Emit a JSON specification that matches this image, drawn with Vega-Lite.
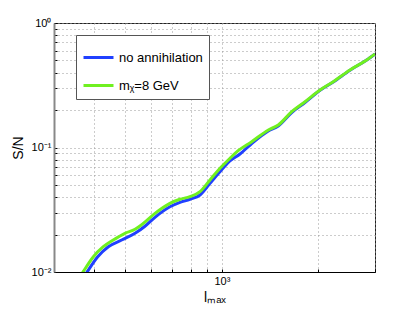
{
  "$schema": "https://vega.github.io/schema/vega-lite/v6.json",
  "width": 321,
  "height": 249,
  "autosize": "none",
  "padding": {"left": 54, "top": 23, "right": 40, "bottom": 40},
  "background": "white",
  "config": {
    "font": "Liberation Sans",
    "view": {"stroke": "#222", "strokeWidth": 1}
  },
  "data": {
    "values": [
      {"l": 375.7, "sn": 0.00951, "s": "no annihilation"},
      {"l": 381, "sn": 0.01006, "s": "no annihilation"},
      {"l": 410.5, "sn": 0.01327, "s": "no annihilation"},
      {"l": 442.9, "sn": 0.01596, "s": "no annihilation"},
      {"l": 487.5, "sn": 0.01807, "s": "no annihilation"},
      {"l": 536.5, "sn": 0.02046, "s": "no annihilation"},
      {"l": 576, "sn": 0.02330, "s": "no annihilation"},
      {"l": 619, "sn": 0.0275, "s": "no annihilation"},
      {"l": 689, "sn": 0.0334, "s": "no annihilation"},
      {"l": 740.6, "sn": 0.0363, "s": "no annihilation"},
      {"l": 795.6, "sn": 0.0384, "s": "no annihilation"},
      {"l": 855, "sn": 0.04155, "s": "no annihilation"},
      {"l": 918.5, "sn": 0.0516, "s": "no annihilation"},
      {"l": 986.8, "sn": 0.0639, "s": "no annihilation"},
      {"l": 1060, "sn": 0.0780, "s": "no annihilation"},
      {"l": 1139, "sn": 0.0887, "s": "no annihilation"},
      {"l": 1239, "sn": 0.1077, "s": "no annihilation"},
      {"l": 1396, "sn": 0.1360, "s": "no annihilation"},
      {"l": 1499, "sn": 0.1488, "s": "no annihilation"},
      {"l": 1651, "sn": 0.1910, "s": "no annihilation"},
      {"l": 1816, "sn": 0.2298, "s": "no annihilation"},
      {"l": 2023, "sn": 0.2880, "s": "no annihilation"},
      {"l": 2224, "sn": 0.3357, "s": "no annihilation"},
      {"l": 2507, "sn": 0.4180, "s": "no annihilation"},
      {"l": 2827, "sn": 0.5040, "s": "no annihilation"},
      {"l": 3000, "sn": 0.5636, "s": "no annihilation"},
      {"l": 364.9, "sn": 0.00951, "s": "mᵪ=8 GeV"},
      {"l": 370, "sn": 0.01006, "s": "mᵪ=8 GeV"},
      {"l": 397.9, "sn": 0.01327, "s": "mᵪ=8 GeV"},
      {"l": 427.3, "sn": 0.01596, "s": "mᵪ=8 GeV"},
      {"l": 459, "sn": 0.01807, "s": "mᵪ=8 GeV"},
      {"l": 499, "sn": 0.02046, "s": "mᵪ=8 GeV"},
      {"l": 536.5, "sn": 0.02203, "s": "mᵪ=8 GeV"},
      {"l": 562.8, "sn": 0.0240, "s": "mᵪ=8 GeV"},
      {"l": 619, "sn": 0.0296, "s": "mᵪ=8 GeV"},
      {"l": 689, "sn": 0.03563, "s": "mᵪ=8 GeV"},
      {"l": 740.6, "sn": 0.03837, "s": "mᵪ=8 GeV"},
      {"l": 795.6, "sn": 0.04026, "s": "mᵪ=8 GeV"},
      {"l": 855, "sn": 0.04416, "s": "mᵪ=8 GeV"},
      {"l": 918.5, "sn": 0.05483, "s": "mᵪ=8 GeV"},
      {"l": 986.8, "sn": 0.06807, "s": "mᵪ=8 GeV"},
      {"l": 1060, "sn": 0.0819, "s": "mᵪ=8 GeV"},
      {"l": 1115, "sn": 0.0925, "s": "mᵪ=8 GeV"},
      {"l": 1239, "sn": 0.1113, "s": "mᵪ=8 GeV"},
      {"l": 1396, "sn": 0.1382, "s": "mᵪ=8 GeV"},
      {"l": 1499, "sn": 0.1516, "s": "mᵪ=8 GeV"},
      {"l": 1651, "sn": 0.1940, "s": "mᵪ=8 GeV"},
      {"l": 1816, "sn": 0.2333, "s": "mᵪ=8 GeV"},
      {"l": 2023, "sn": 0.2897, "s": "mᵪ=8 GeV"},
      {"l": 2224, "sn": 0.3377, "s": "mᵪ=8 GeV"},
      {"l": 2507, "sn": 0.4194, "s": "mᵪ=8 GeV"},
      {"l": 2827, "sn": 0.5045, "s": "mᵪ=8 GeV"},
      {"l": 3000, "sn": 0.5636, "s": "mᵪ=8 GeV"}
    ]
  },
  "mark": {"type": "line", "strokeWidth": 3, "clip": true, "interpolate": "monotone"},
  "encoding": {
    "x": {
      "field": "l",
      "type": "quantitative",
      "scale": {"type": "log", "domain": [300, 3000], "nice": false},
      "axis": {
        "title": "lₘₐₓ",
        "titleFontSize": 14,
        "titleFontWeight": "normal",
        "titleColor": "#000",
        "titlePadding": 4,
        "values": [300, 400, 500, 600, 700, 800, 900, 1000, 2000, 3000],
        "labelExpr": "datum.value == 1000 ? '10³' : ''",
        "labelFontSize": 11,
        "labelColor": "#000",
        "labelPadding": 6,
        "grid": true,
        "gridDash": [1, 3],
        "gridColor": "#999",
        "gridOpacity": 1,
        "domainColor": "#000",
        "tickColor": "#000",
        "tickSize": -3
      }
    },
    "y": {
      "field": "sn",
      "type": "quantitative",
      "scale": {"type": "log", "domain": [0.01, 1], "nice": false},
      "axis": {
        "title": "S/N",
        "titleFontSize": 14,
        "titleFontWeight": "normal",
        "titleColor": "#000",
        "titlePadding": 6,
        "values": [0.01, 0.02, 0.03, 0.04, 0.05, 0.06, 0.07, 0.08, 0.09, 0.1, 0.2, 0.3, 0.4, 0.5, 0.6, 0.7, 0.8, 0.9, 1],
        "labelExpr": "datum.value == 1 ? '10⁰' : (abs(datum.value - 0.1) < 1e-9 ? '10⁻¹' : (abs(datum.value - 0.01) < 1e-9 ? '10⁻²' : ''))",
        "labelFontSize": 11,
        "labelColor": "#000",
        "labelPadding": 6,
        "grid": true,
        "gridDash": [1, 3],
        "gridColor": "#999",
        "gridOpacity": 1,
        "domainColor": "#888",
        "domainWidth": 2,
        "tickColor": "#000",
        "tickSize": -3
      }
    },
    "color": {
      "field": "s",
      "type": "nominal",
      "sort": ["no annihilation", "mᵪ=8 GeV"],
      "scale": {"domain": ["no annihilation", "mᵪ=8 GeV"], "range": ["#2040ff", "#70f020"]},
      "legend": {
        "title": null,
        "orient": "none",
        "legendX": 22,
        "legendY": 12,
        "symbolType": "stroke",
        "symbolSize": 900,
        "symbolStrokeWidth": 3,
        "labelFontSize": 13,
        "labelColor": "#000",
        "strokeColor": "#555",
        "fillColor": "white",
        "padding": 6,
        "rowPadding": 4,
        "labelOffset": 4
      }
    }
  }
}
